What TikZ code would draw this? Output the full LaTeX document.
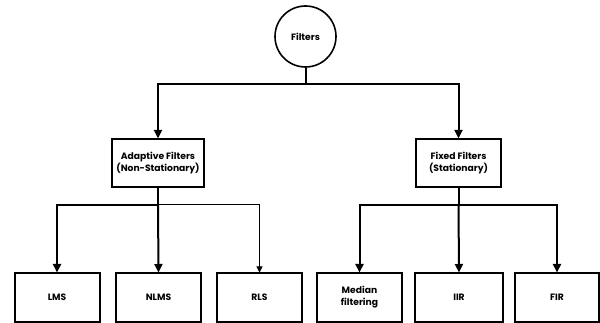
\documentclass[tikz,border=0pt]{standalone}
\usepackage{fontspec}
\setmainfont{Poppins}
\usetikzlibrary{arrows.meta,positioning}

\tikzset{
  root/.style={circle,draw,line width=1.6pt,minimum size=61pt,inner sep=0pt},
  mid/.style={draw,line width=1.2pt,minimum width=88pt,minimum height=48pt,align=center},
  leaf/.style={draw,line width=2pt,minimum width=85pt,minimum height=48pt,align=center},
  thinlink/.style={line width=1pt,-{Stealth[length=6pt,width=6pt,inset=0pt]}},
}

\begin{document}
\begin{tikzpicture}[x=1pt,y=-1pt,>={Stealth[length=8.5pt,width=8pt,inset=0pt]},line width=2pt,
  font=\bfseries\fontsize{9.2}{12}\selectfont]
  \useasboundingbox (0,0) rectangle (600,323);

  \node[root] (filters) at (305.5,36.5) {Filters};

  \node[mid,minimum width=92pt] (adaptive) at (158,163) {Adaptive Filters\\(Non-Stationary)};
  \node[mid,minimum width=85pt] (fixed) at (458.5,163) {Fixed Filters\\(Stationary)};

  \node[leaf] (lms) at (57,297.5) {LMS};
  \node[leaf] (nlms) at (158.5,297.5) {NLMS};
  \node[leaf] (rls) at (259.5,297.5) {RLS};
  \node[leaf] (median) at (359.5,297.5) {Median\\filtering};
  \node[leaf,minimum width=88pt] (iir) at (459,297.5) {IIR};
  \node[leaf,minimum width=84pt] (fir) at (557,297.5) {FIR};

  \draw (filters.south) -- ++(0,16) coordinate (top);
  \draw[->] (top) -| (adaptive.north);
  \draw[->] (top) -| (fixed.north);

  \draw (adaptive.south) -- ++(0,17) coordinate (lbar);
  \draw[->] (lbar) -| (lms.north);
  \draw[->] (lbar) -- (nlms.north);
  \draw[thinlink] (lbar) -| (rls.north);

  \draw (fixed.south) -- ++(0,17) coordinate (rbar);
  \draw[->] (rbar) -| (median.north);
  \draw[->] (rbar) -- (iir.north);
  \draw[->] (rbar) -| (fir.north);
\end{tikzpicture}
\end{document}
